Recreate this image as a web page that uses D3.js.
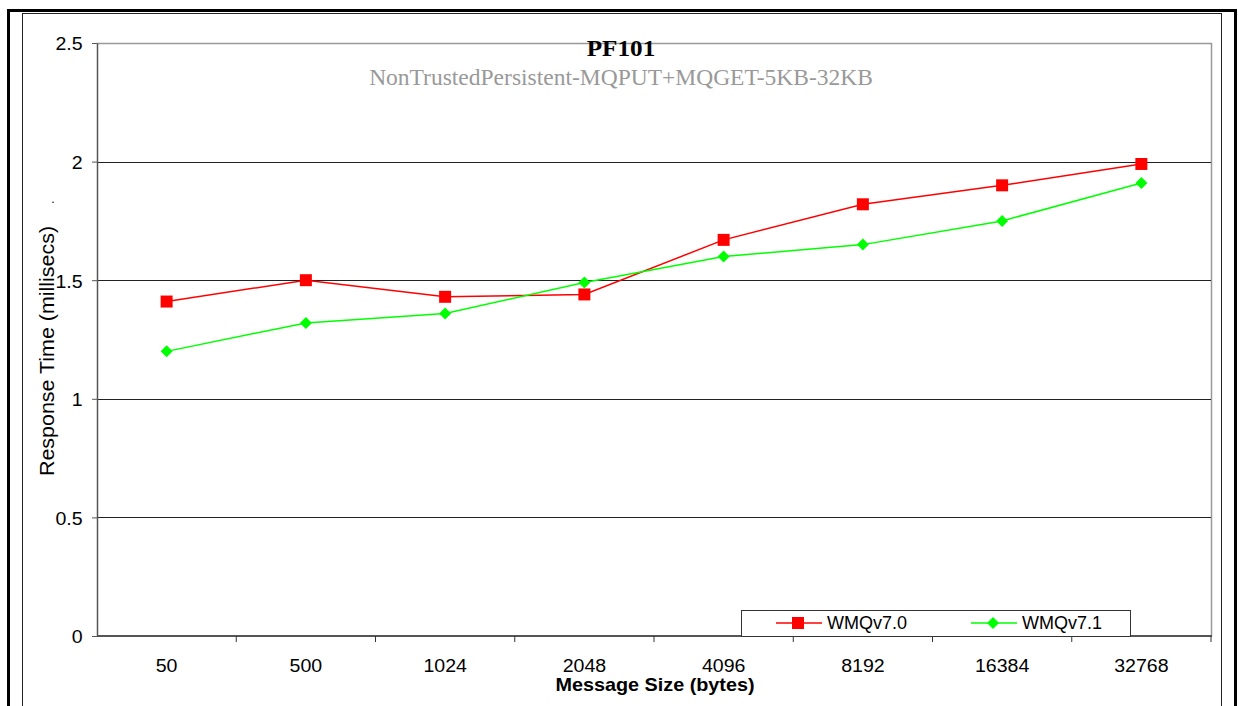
<!DOCTYPE html>
<html>
<head>
<meta charset="utf-8">
<script src="https://cdn.jsdelivr.net/npm/d3@7"></script>
<style>
  body { margin: 0; background: #fff; }
  svg { display: block; }
</style>
</head>
<body>
<div id="chart"></div>
<script>
const WIDTH = 1239
const HEIGHT = 706

const sizes = ['50', '500', '1024', '2048', '4096', '8192', '16384', '32768']
const wmq70 = [1.41, 1.50, 1.43, 1.44, 1.67, 1.82, 1.90, 1.99]
const wmq71 = [1.20, 1.32, 1.36, 1.49, 1.60, 1.65, 1.75, 1.91]
const yTicks = [0, 0.5, 1, 1.5, 2, 2.5]

const series = [
  { name: 'WMQv7.0', values: wmq70, color: '#ff0000', shape: 'square' },
  { name: 'WMQv7.1', values: wmq71, color: '#00ff00', shape: 'diamond' }
]

const m = { left: 97, right: 1211, top: 43, bottom: 636 }
const SANS = 'Liberation Sans, Arial, sans-serif'
const SERIF = 'Liberation Serif, Times New Roman, serif'

const svg = d3.select('#chart').append('svg')
  .attr('width', WIDTH)
  .attr('height', HEIGHT)

// outer frames
svg.append('rect')
  .attr('x', 8.5).attr('y', 10.5)
  .attr('width', 1227).attr('height', 720)
  .attr('fill', 'none').attr('stroke', '#000').attr('stroke-width', 3)
svg.append('rect')
  .attr('x', 22.5).attr('y', 13.5)
  .attr('width', 1199).attr('height', 720)
  .attr('fill', 'none').attr('stroke', '#222').attr('stroke-width', 1)

const x = d3.scaleBand()
  .domain(sizes)
  .range([m.left, m.right])

const y = d3.scaleLinear()
  .domain([0, 2.5])
  .range([m.bottom, m.top])

// the picture is a bit stretched sideways, so texts get a small x scale
function label (sel, px, py, txt, size, opts = {}) {
  return sel.append('text')
    .attr('transform', `translate(${px},${py})${opts.rotate ? ' rotate(' + opts.rotate + ')' : ''} scale(${opts.sx || 1.03},1)`)
    .attr('text-anchor', opts.anchor || 'middle')
    .attr('font-family', opts.family || SANS)
    .attr('font-weight', opts.weight || 'normal')
    .attr('font-size', size)
    .attr('fill', opts.fill || '#000')
    .text(txt)
}

// plot area border (top/right gray)
svg.append('path')
  .attr('d', `M${m.left},${m.top + 0.5}H${m.right + 0.5}V${m.bottom}`)
  .attr('fill', 'none').attr('stroke', '#999').attr('stroke-width', 1.5)

// gridlines
svg.append('g')
  .selectAll('line')
  .data(yTicks.filter(d => d > 0 && d < 2.5))
  .enter().append('line')
  .attr('x1', m.left).attr('x2', m.right)
  .attr('y1', d => Math.round(y(d)) + 0.5)
  .attr('y2', d => Math.round(y(d)) + 0.5)
  .attr('stroke', '#222').attr('stroke-width', 1)

// y axis
const yAxis = svg.append('g')
  .attr('transform', `translate(${m.left},0)`)
  .call(d3.axisLeft(y).tickValues(yTicks).tickSize(5).tickSizeOuter(0).tickPadding(9).tickFormat(d3.format('')))
yAxis.select('.domain').attr('stroke', '#555').attr('stroke-width', 1.5)
yAxis.selectAll('.tick line').attr('stroke', '#555')
yAxis.selectAll('text')
  .attr('font-family', SANS)
  .attr('font-size', 19).attr('fill', '#000')
  .attr('dy', '0.36em')
  .attr('transform', 'scale(1.03,1)')

// x axis with ticks at band edges
const xAxis = svg.append('g')
  .attr('transform', `translate(0,${m.bottom})`)
xAxis.append('line')
  .attr('x1', m.left).attr('x2', m.right + 1)
  .attr('stroke', '#555').attr('stroke-width', 2)
xAxis.selectAll('.edge')
  .data(sizes.slice(1).concat(['end']))
  .enter().append('line')
  .attr('class', 'edge')
  .attr('x1', d => d === 'end' ? m.right : x(d))
  .attr('x2', d => d === 'end' ? m.right : x(d))
  .attr('y1', 0).attr('y2', 6)
  .attr('stroke', '#333')
sizes.forEach(s => label(xAxis, x(s) + x.bandwidth() / 2, 36, s, 19))

// lines and markers
const line = d3.line()
  .x((d, i) => x(sizes[i]) + x.bandwidth() / 2)
  .y(d => y(d))

const diamond = s => `M0,${-s}L${s},0L0,${s}L${-s},0Z`
const square = s => `M${-s},${-s}H${s}V${s}H${-s}Z`

series.forEach(s => {
  const g = svg.append('g')
  g.append('path')
    .datum(s.values)
    .attr('d', line)
    .attr('fill', 'none')
    .attr('stroke', s.color)
    .attr('stroke-width', 1.5)
  g.selectAll('.pt')
    .data(s.values)
    .enter().append('path')
    .attr('class', 'pt')
    .attr('transform', (d, i) => `translate(${x(sizes[i]) + x.bandwidth() / 2},${y(d)})`)
    .attr('d', s.shape === 'square' ? square(6) : diamond(6))
    .attr('fill', s.color)
})

// titles
label(svg, 621, 56, 'PF101', 24, { family: SERIF, weight: 'bold', sx: 1.05 })
label(svg, 621, 85, 'NonTrustedPersistent-MQPUT+MQGET-5KB-32KB', 23.5, { family: SERIF, fill: '#999', sx: 1 })

label(svg, 655, 691, 'Message Size (bytes)', 18, { weight: 'bold', sx: 1.1 })
label(svg, 54, 351, 'Response Time (millisecs)', 19.5, { rotate: -90, sx: 1.1 })
label(svg, 53, 203, '.', 12)

// legend
const legend = svg.append('g')
legend.append('rect')
  .attr('x', 741.5).attr('y', 610.5)
  .attr('width', 389).attr('height', 26)
  .attr('fill', '#fff').attr('stroke', '#333')
const items = legend.selectAll('.item')
  .data(series)
  .enter().append('g')
  .attr('class', 'item')
  .attr('transform', (d, i) => `translate(${776 + i * 195},623)`)
items.append('line')
  .attr('x1', 0).attr('x2', 46)
  .attr('stroke', d => d.color).attr('stroke-width', 1.5)
items.append('path')
  .attr('transform', 'translate(22,0)')
  .attr('d', d => d.shape === 'square' ? square(6) : diamond(6))
  .attr('fill', d => d.color)
items.each(function (d) {
  label(d3.select(this), 51, 6, d.name, 17.5, { anchor: 'start', sx: 1.03 })
})
</script>
</body>
</html>
